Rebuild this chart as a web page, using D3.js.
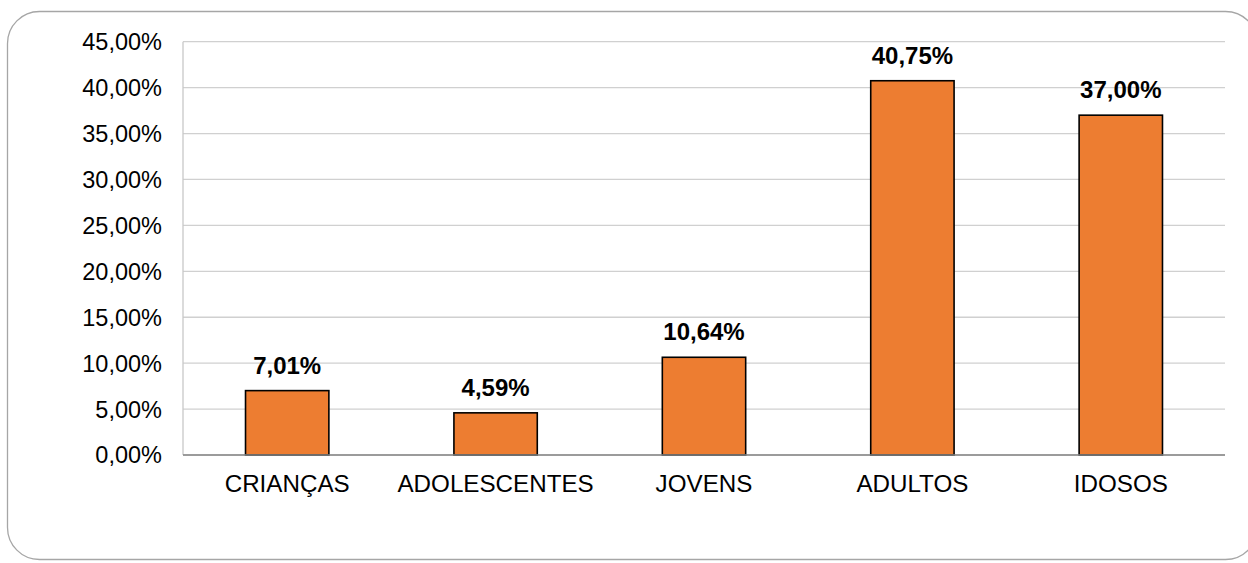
<!DOCTYPE html>
<html><head><meta charset="utf-8">
<script src="https://cdn.jsdelivr.net/npm/d3@7"></script>
<style>body{margin:0;background:#fff}svg{display:block}</style>
</head><body>
<script>
const categories = ["CRIANÇAS","ADOLESCENTES","JOVENS","ADULTOS","IDOSOS"];
const values = [7.01, 4.59, 10.64, 40.75, 37.00];
const valueLabels = ["7,01%","4,59%","10,64%","40,75%","37,00%"];
const yTicks = [0,5,10,15,20,25,30,35,40,45];
const yTickLabels = ["0,00%","5,00%","10,00%","15,00%","20,00%","25,00%","30,00%","35,00%","40,00%","45,00%"];

(function(){
const W=1248,H=563;
const svg=d3.select("body").append("svg").attr("width",W).attr("height",H);
svg.append("rect").attr("x",7.5).attr("y",11.5).attr("width",1250).attr("height",548)
  .attr("rx",32).attr("fill","#fff").attr("stroke","#a6a6a6").attr("stroke-width",1.3);

const pLeft=183,pRight=1225,pTop=41.7,pBottom=455;
const x=d3.scaleBand().domain(categories).range([pLeft,pRight]).paddingInner(0.6).paddingOuter(0.3);
const y=d3.scaleLinear().domain([0,45]).range([pBottom,pTop]);
const font="Liberation Sans, Arial, sans-serif";

const g=svg.append("g");
g.selectAll("line.grid").data(yTicks).enter().append("line")
  .attr("x1",pLeft).attr("x2",pRight).attr("y1",d=>y(d)).attr("y2",d=>y(d))
  .attr("stroke","#d0d0d0").attr("stroke-width",1.3);
g.append("line").attr("x1",pLeft).attr("x2",pLeft).attr("y1",pTop).attr("y2",pBottom)
  .attr("stroke","#c8c8c8").attr("stroke-width",1.3);

g.selectAll("text.yt").data(yTicks).enter().append("text")
  .attr("x",162).attr("y",d=>y(d)).attr("dy","0.36em").attr("text-anchor","end")
  .attr("font-family",font).attr("font-size",23.5).attr("fill","#000")
  .text((d,i)=>yTickLabels[i]);

g.selectAll("rect.bar").data(values).enter().append("rect")
  .attr("x",(d,i)=>x(categories[i])).attr("width",x.bandwidth())
  .attr("y",d=>y(d)).attr("height",d=>pBottom-y(d))
  .attr("fill","#ED7D31").attr("stroke","#000").attr("stroke-width",1.6);

g.append("line").attr("x1",pLeft).attr("x2",pRight).attr("y1",pBottom).attr("y2",pBottom)
  .attr("stroke","#868686").attr("stroke-width",1.6);

g.selectAll("text.vl").data(values).enter().append("text")
  .attr("x",(d,i)=>x(categories[i])+x.bandwidth()/2).attr("y",d=>y(d)-17)
  .attr("text-anchor","middle").attr("font-family",font).attr("font-weight","bold")
  .attr("font-size",24).attr("fill","#000").text((d,i)=>valueLabels[i]);

g.selectAll("text.xl").data(categories).enter().append("text")
  .attr("x",d=>x(d)+x.bandwidth()/2).attr("y",491.5).attr("text-anchor","middle")
  .attr("font-family",font).attr("font-size",24.2).attr("fill","#000").text(d=>d);
})();
</script>
</body></html>
